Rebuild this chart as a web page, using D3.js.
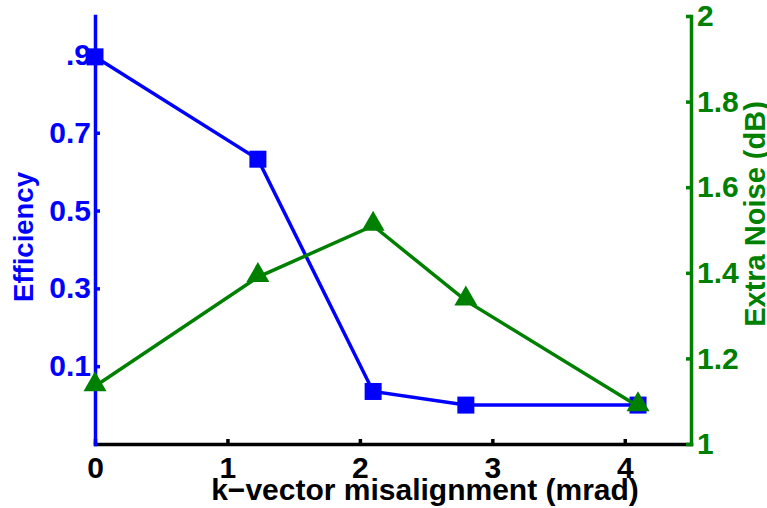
<!DOCTYPE html>
<html>
<head>
<meta charset="utf-8">
<script src="https://cdn.jsdelivr.net/npm/d3@7"></script>
<style>
  body { margin: 0; background: #fff; }
  text { font-family: "Liberation Sans", Arial, Helvetica, sans-serif; font-weight: bold; }
</style>
</head>
<body>
<div id="chart"></div>
<script>
// data
const misalignment = [0, 1.23, 2.1, 2.8, 4.1]
const efficiency = [0.895, 0.632, 0.035, 0, 0]
const extraNoise = [1.135, 1.39, 1.51, 1.335, 1.088]

const xTicks = [0, 1, 2, 3, 4]
const effTicks = [0.1, 0.3, 0.5, 0.7, 0.9]
const effTickLabels = ['0.1', '0.3', '0.5', '0.7', '.9']
const noiseTicks = [1, 1.2, 1.4, 1.6, 1.8, 2]
const noiseTickLabels = ['1', '1.2', '1.4', '1.6', '1.8', '2']

const width = 767
const height = 508
const blue = '#0000ff'
const green = '#008000'

const svg = d3.select('#chart').append('svg').attr('width', width).attr('height', height)

const x = d3.scaleLinear().domain([0, 4.5]).range([95, 691])
const yEff = d3.scaleLinear().domain([-0.1, 1.0]).range([444, 16])
const yNoise = d3.scaleLinear().domain([1, 2]).range([444, 16])

// axes
const xAxis = d3.axisBottom(x).tickValues(xTicks).tickFormat(d3.format('d'))
    .tickSizeInner(-5).tickSizeOuter(0).tickPadding(13)
const yAxis = d3.axisLeft(yEff).tickValues(effTicks).tickFormat((d, i) => effTickLabels[i])
    .tickSizeInner(-5).tickSizeOuter(0).tickPadding(4)
const y2Axis = d3.axisRight(yNoise).tickValues(noiseTicks).tickFormat((d, i) => noiseTickLabels[i])
    .tickSizeInner(-5).tickSizeOuter(0).tickPadding(6)

const xAxisGroup = svg.append('g').attr('transform', 'translate(0,444)').call(xAxis)
xAxisGroup.selectAll('path, line').attr('stroke', '#000').attr('stroke-width', 3.5)
xAxisGroup.selectAll('text').attr('fill', '#000').attr('font-size', 30)

const yAxisGroup = svg.append('g').attr('transform', 'translate(95,0)').call(yAxis)
yAxisGroup.selectAll('path, line').attr('stroke', blue).attr('stroke-width', 3.5)
yAxisGroup.selectAll('text').attr('fill', blue).attr('font-size', 30)

const y2AxisGroup = svg.append('g').attr('transform', 'translate(691,0)').call(y2Axis)
y2AxisGroup.selectAll('path, line').attr('stroke', green).attr('stroke-width', 3.5)
y2AxisGroup.selectAll('text').attr('fill', green).attr('font-size', 30)

svg.selectAll('.domain').attr('stroke-linecap', 'square')

// efficiency series
svg.append('path')
    .datum(misalignment.map((m, i) => [m, efficiency[i]]))
    .attr('fill', 'none').attr('stroke', blue).attr('stroke-width', 3.5)
    .attr('d', d3.line().x(d => x(d[0])).y(d => yEff(d[1])))

svg.selectAll('rect.eff').data(misalignment.map((m, i) => [m, efficiency[i]]))
    .enter().append('rect').attr('class', 'eff')
    .attr('x', d => x(d[0]) - 8.5).attr('y', d => yEff(d[1]) - 8.5)
    .attr('width', 17).attr('height', 17).attr('fill', blue)

// extra noise series
svg.append('path')
    .datum(misalignment.map((m, i) => [m, extraNoise[i]]))
    .attr('fill', 'none').attr('stroke', green).attr('stroke-width', 3.5)
    .attr('d', d3.line().x(d => x(d[0])).y(d => yNoise(d[1])))

svg.selectAll('path.noise').data(misalignment.map((m, i) => [m, extraNoise[i]]))
    .enter().append('path').attr('class', 'noise')
    .attr('transform', d => `translate(${x(d[0])},${yNoise(d[1])})`)
    .attr('d', 'M0,-15L11.5,5L-11.5,5Z')
    .attr('fill', green)

// axis titles
svg.append('text')
    .attr('x', 425).attr('y', 500)
    .attr('text-anchor', 'middle').attr('font-size', 30).attr('fill', '#000')
    .text('k\u2212vector misalignment (mrad)')

svg.append('text')
    .attr('transform', 'translate(33,237) rotate(-90)')
    .attr('text-anchor', 'middle').attr('font-size', 27.5).attr('fill', blue)
    .text('Efficiency')

svg.append('text')
    .attr('transform', 'translate(765,214) rotate(-90)')
    .attr('text-anchor', 'middle').attr('font-size', 29).attr('fill', green)
    .text('Extra Noise (dB)')
</script>
</body>
</html>
